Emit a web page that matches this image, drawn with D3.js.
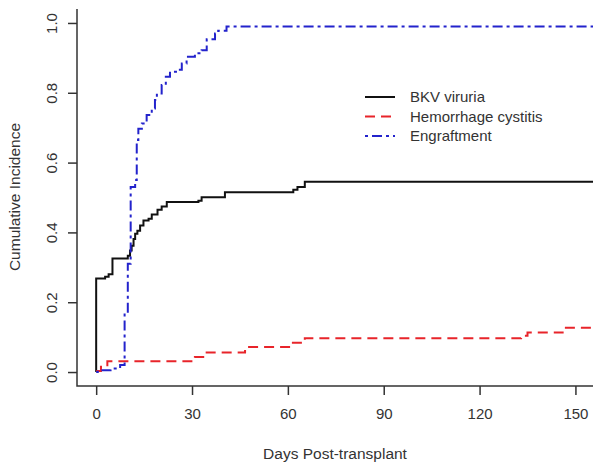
<!DOCTYPE html>
<html>
<head>
<meta charset="utf-8">
<style>
  body { margin: 0; background: #fff; }
  text { font-family: "Liberation Sans", Arial, sans-serif; fill: #333; }
</style>
</head>
<body>
<svg width="600" height="465"></svg>
<script src="https://d3js.org/d3.v7.min.js"></script>
<script>
// step curves: day of each step and the value after it
var bkvDays   = [0, 0, 2.8, 3.9, 5.1, 9.9, 10.6, 11.1, 11.7, 12.2, 12.9, 13.75, 14.8, 16.4, 17.4, 19.2, 20.5, 22.1, 32.0, 33.0, 40.3, 61.7, 63.0, 65.3, 155.5]
var bkvValues = [0, 0.268, 0.273, 0.28, 0.325, 0.333, 0.348, 0.362, 0.381, 0.396, 0.405, 0.42, 0.434, 0.439, 0.451, 0.465, 0.474, 0.487, 0.491, 0.501, 0.515, 0.522, 0.53, 0.545, 0.545]

var hcDays   = [0, 1.5, 3.5, 30.9, 34.0, 46.6, 61.2, 65.3, 133.0, 135.0, 146.0, 155.5]
var hcValues = [0.003, 0.015, 0.031, 0.043, 0.056, 0.072, 0.084, 0.097, 0.104, 0.113, 0.127, 0.127]

var engDays   = [0, 0.5, 4.5, 7.5, 8.9, 9.9, 10.8, 12.2, 12.7, 13.2, 14.3, 15.8, 17.4, 18.4, 19.0, 20.5, 21.8, 23.1, 25.5, 26.8, 28.3, 30.9, 33.0, 34.6, 37.2, 38.2, 40.8, 155.5]
var engValues = [0, 0.005, 0.01, 0.02, 0.17, 0.31, 0.53, 0.55, 0.665, 0.697, 0.712, 0.736, 0.755, 0.779, 0.798, 0.822, 0.846, 0.86, 0.866, 0.884, 0.903, 0.913, 0.922, 0.953, 0.97, 0.978, 0.99, 0.99]

var seriesNames = ["BKV viruria", "Hemorrhage cystitis", "Engraftment"]
var xTicks = [0, 30, 60, 90, 120, 150]
var yTicks = [0, 0.2, 0.4, 0.6, 0.8, 1.0]

var styles = [
  { color: "#111", dash: null },
  { color: "#e8242a", dash: "10,6" },
  { color: "#2323cc", dash: "3,4,10,4" }
]

var svg = d3.select("svg")
var plotLeft = 77, plotRight = 593, plotTop = 9, plotBottom = 386

var x = d3.scaleLinear().domain([-6, 155.5]).range([plotLeft, plotRight])
var y = d3.scaleLinear().domain([-0.04, 1.04]).range([plotBottom, plotTop])

svg.append("clipPath").attr("id", "plot")
  .append("rect").attr("x", plotLeft).attr("y", plotTop)
  .attr("width", plotRight - plotLeft).attr("height", plotBottom - plotTop)

function toPoints(days, values) {
  return days.map(function (d, i) { return [d, values[i]] })
}
var series = [
  toPoints(bkvDays, bkvValues),
  toPoints(hcDays, hcValues),
  toPoints(engDays, engValues)
]

var line = d3.line()
  .x(function (p) { return x(p[0]) })
  .y(function (p) { return y(p[1]) })
  .curve(d3.curveStepAfter)

var lines = svg.append("g").attr("clip-path", "url(#plot)")
series.forEach(function (pts, i) {
  lines.append("path")
    .attr("d", line(pts))
    .attr("fill", "none")
    .attr("stroke", styles[i].color)
    .attr("stroke-width", 2)
    .attr("stroke-dasharray", styles[i].dash)
})

// axes, R style (L shaped box)
var xAxis = svg.append("g").attr("transform", "translate(0," + plotBottom + ")")
  .call(d3.axisBottom(x).tickValues(xTicks).tickSize(9).tickPadding(13).tickSizeOuter(0))
var yAxis = svg.append("g").attr("transform", "translate(" + plotLeft + ",0)")
  .call(d3.axisLeft(y).tickValues(yTicks).tickSize(9).tickFormat(d3.format(".1f")).tickSizeOuter(0))

xAxis.select(".domain").remove()
yAxis.select(".domain").remove()
svg.append("path")
  .attr("d", "M" + plotLeft + "," + plotTop + "V" + plotBottom + "H" + plotRight)
  .attr("fill", "none").attr("stroke", "#333").attr("stroke-width", 1.5)

svg.selectAll(".tick line").attr("stroke", "#333").attr("stroke-width", 1.5)
xAxis.selectAll(".tick text")
  .attr("font-size", 15).attr("font-family", "Liberation Sans, Arial, sans-serif").attr("fill", "#333")
yAxis.selectAll(".tick text")
  .attr("font-size", 15).attr("font-family", "Liberation Sans, Arial, sans-serif").attr("fill", "#333")
  .attr("x", null).attr("dy", null)
  .attr("text-anchor", "middle")
  .attr("transform", "translate(-20,0) rotate(-90)")

svg.append("text")
  .attr("x", (plotLeft + plotRight) / 2).attr("y", 459)
  .attr("text-anchor", "middle").attr("font-size", 15.5)
  .text("Days Post-transplant")

svg.append("text")
  .attr("transform", "translate(20,197) rotate(-90)")
  .attr("text-anchor", "middle").attr("font-size", 15.5)
  .text("Cumulative Incidence")

// legend
var legend = svg.append("g")
seriesNames.forEach(function (name, i) {
  var ly = 97 + i * 19.5
  legend.append("line")
    .attr("x1", 365).attr("x2", 395).attr("y1", ly).attr("y2", ly)
    .attr("stroke", styles[i].color).attr("stroke-width", 2)
    .attr("stroke-dasharray", styles[i].dash)
  legend.append("text")
    .attr("x", 410).attr("y", ly + 5)
    .attr("font-size", 15)
    .text(name)
})
</script>
</body>
</html>
